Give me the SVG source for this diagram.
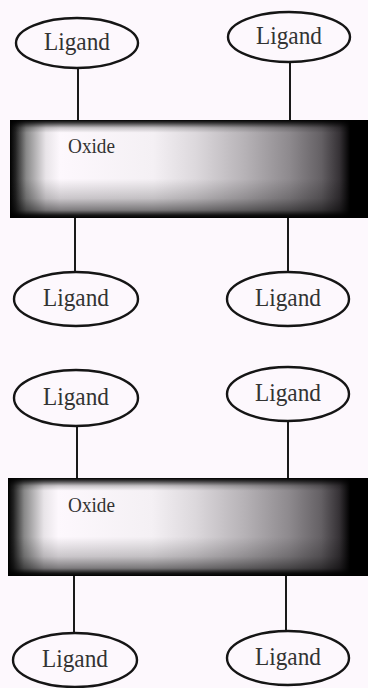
<svg xmlns="http://www.w3.org/2000/svg" width="368" height="688" viewBox="0 0 368 688">
<style>
.bg{fill:#fdf8fd}
.lig ellipse{fill:#fdf8fd;stroke:#151515;stroke-width:2.4}
.lig text{font-family:"Liberation Serif","Times New Roman",serif;font-size:25px;fill:#333;text-anchor:middle}
.ox text{font-family:"Liberation Serif","Times New Roman",serif;font-size:20px;fill:#333}
.conn line{stroke:#1a1a1a;stroke-width:2}
</style>
<defs>
<linearGradient id="hg" x1="0" y1="0" x2="1" y2="0">
<stop offset="0" stop-color="#000"/>
<stop offset="0.015" stop-color="#222"/>
<stop offset="0.045" stop-color="#888"/>
<stop offset="0.1" stop-color="#e8e4e8"/>
<stop offset="0.14" stop-color="#fdf8fd"/>
<stop offset="0.4" stop-color="#f4f0f4"/>
<stop offset="0.52" stop-color="#dcd8dc"/>
<stop offset="0.66" stop-color="#b5b1b5"/>
<stop offset="0.78" stop-color="#8e8a8e"/>
<stop offset="0.87" stop-color="#646064"/>
<stop offset="0.92" stop-color="#363236"/>
<stop offset="0.95" stop-color="#000"/>
<stop offset="1" stop-color="#000"/>
</linearGradient>
<linearGradient id="vg" x1="0" y1="0" x2="0" y2="1">
<stop offset="0" stop-color="#000" stop-opacity="1"/>
<stop offset="0.03" stop-color="#000" stop-opacity="0.75"/>
<stop offset="0.08" stop-color="#000" stop-opacity="0.2"/>
<stop offset="0.13" stop-color="#000" stop-opacity="0"/>
<stop offset="0.6" stop-color="#000" stop-opacity="0"/>
<stop offset="0.8" stop-color="#000" stop-opacity="0.2"/>
<stop offset="0.92" stop-color="#000" stop-opacity="0.5"/>
<stop offset="0.97" stop-color="#000" stop-opacity="0.9"/>
<stop offset="1" stop-color="#000" stop-opacity="1"/>
</linearGradient>
</defs>
<rect class="bg" x="0" y="0" width="368" height="688"/>

<g id="connectors" class="conn">
<line x1="78" y1="68" x2="78" y2="120"/>
<line x1="290" y1="62" x2="290" y2="120"/>
<line x1="75" y1="218" x2="75" y2="272"/>
<line x1="288" y1="218" x2="288" y2="272"/>
<line x1="77" y1="426" x2="77" y2="478"/>
<line x1="288" y1="421" x2="288" y2="478"/>
<line x1="74" y1="576" x2="74" y2="633"/>
<line x1="286" y1="576" x2="286" y2="631"/>
</g>

<g id="oxide1" class="ox">
<rect x="10" y="120" width="358" height="98" fill="url(#hg)"/>
<rect x="10" y="120" width="358" height="98" fill="url(#vg)"/>
<text x="68" y="153" textLength="47" lengthAdjust="spacingAndGlyphs">Oxide</text>
</g>
<g id="oxide2" class="ox">
<rect x="8" y="478" width="360" height="98" fill="url(#hg)"/>
<rect x="8" y="478" width="360" height="98" fill="url(#vg)"/>
<text x="68" y="512" textLength="47" lengthAdjust="spacingAndGlyphs">Oxide</text>
</g>

<g id="ligand1" class="lig"><ellipse cx="77" cy="43" rx="61" ry="25"/><text x="77" y="50" textLength="66" lengthAdjust="spacingAndGlyphs">Ligand</text></g>
<g id="ligand2" class="lig"><ellipse cx="289" cy="37" rx="61" ry="25"/><text x="289" y="44" textLength="66" lengthAdjust="spacingAndGlyphs">Ligand</text></g>
<g id="ligand3" class="lig"><ellipse cx="76" cy="299" rx="62" ry="27"/><text x="76" y="306" textLength="66" lengthAdjust="spacingAndGlyphs">Ligand</text></g>
<g id="ligand4" class="lig"><ellipse cx="288" cy="299" rx="61" ry="27"/><text x="288" y="306" textLength="66" lengthAdjust="spacingAndGlyphs">Ligand</text></g>
<g id="ligand5" class="lig"><ellipse cx="76" cy="398" rx="62" ry="28"/><text x="76" y="405" textLength="66" lengthAdjust="spacingAndGlyphs">Ligand</text></g>
<g id="ligand6" class="lig"><ellipse cx="288" cy="394" rx="61" ry="27"/><text x="288" y="401" textLength="66" lengthAdjust="spacingAndGlyphs">Ligand</text></g>
<g id="ligand7" class="lig"><ellipse cx="75" cy="660" rx="62" ry="27"/><text x="75" y="667" textLength="66" lengthAdjust="spacingAndGlyphs">Ligand</text></g>
<g id="ligand8" class="lig"><ellipse cx="288" cy="658" rx="61" ry="27"/><text x="288" y="665" textLength="66" lengthAdjust="spacingAndGlyphs">Ligand</text></g>
</svg>
